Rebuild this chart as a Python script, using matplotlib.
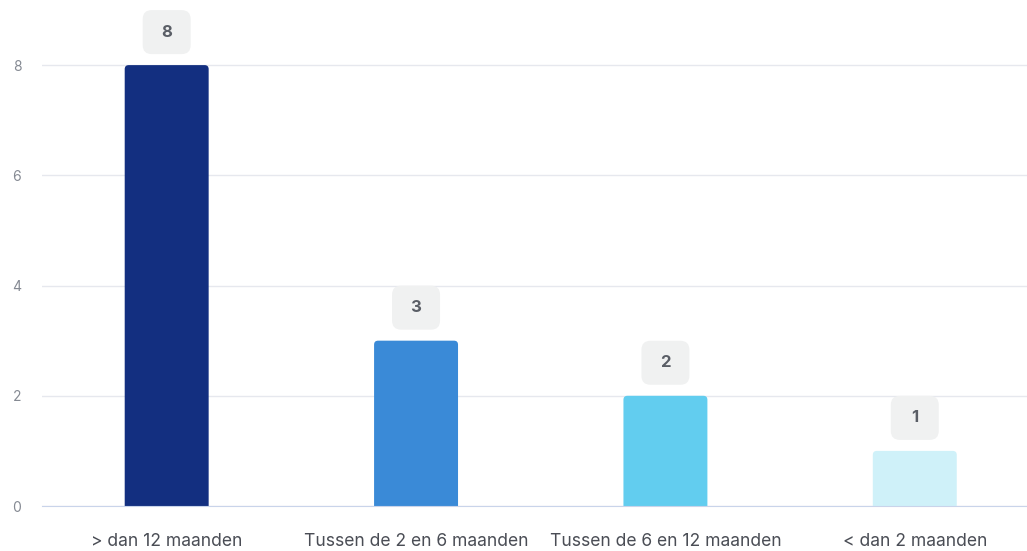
from matplotlib import pyplot as plt
from matplotlib.patches import FancyBboxPatch

plt.rcParams['font.family'] = ['Inter', 'DejaVu Sans']

categories = ["> dan 12 maanden", "Tussen de 2 en 6 maanden", "Tussen de 6 en 12 maanden", "< dan 2 maanden"]
counts = [8, 3, 2, 1]
bar_colors = ["#132f80", "#3a8ad7", "#62cdef", "#cff1f9"]
y_ticks = [0, 2, 4, 6, 8]

fig = plt.figure(figsize=(10.27, 5.51), dpi=100)
ax = fig.add_axes([42 / 1027, 45 / 551, 985 / 1027, 496 / 551])
ax.set_xlim(-0.5, 3.45)
ax.set_ylim(0, 9.0)

# pixel scale of the data axes, used for rounded corners
px_x = 249.5
px_y = 55.1
aspect = px_x / px_y
bar_w = 84 / px_x

for i, (v, c) in enumerate(zip(counts, bar_colors)):
    bar = FancyBboxPatch((i - bar_w / 2, -0.3), bar_w, v + 0.3,
                         boxstyle="round,pad=0,rounding_size=%f" % (4 / px_x),
                         mutation_aspect=aspect, fc=c, ec="none", zorder=3)
    ax.add_patch(bar)
    # value label box
    bw = 48 / px_x
    bh = 44 / px_y
    by = v + 11 / px_y
    box = FancyBboxPatch((i - bw / 2, by), bw, bh,
                         boxstyle="round,pad=0,rounding_size=%f" % (9 / px_x),
                         mutation_aspect=aspect, fc="#f0f1f1", ec="none",
                         zorder=4, clip_on=False)
    ax.add_patch(box)
    ax.text(i, by + bh / 2, str(v), ha="center", va="center", fontsize=12,
            fontweight="bold", color="#5a5e66", zorder=5)

ax.set_yticks(y_ticks)
ax.set_xticks(range(len(categories)))
ax.set_xticklabels(categories)
ax.tick_params(axis="y", length=0, pad=15, labelsize=10, labelcolor="#858a93")
ax.tick_params(axis="x", length=0, pad=19.5, labelsize=12.6, labelcolor="#4a4d55")
ax.grid(axis="y", color="#e6e8ee", linewidth=1, zorder=0)
for s in ["top", "right", "left"]:
    ax.spines[s].set_visible(False)
ax.spines["bottom"].set_color("#c9d4ea")
ax.spines["bottom"].set_zorder(6)

fig.savefig("out.png", dpi=100)
